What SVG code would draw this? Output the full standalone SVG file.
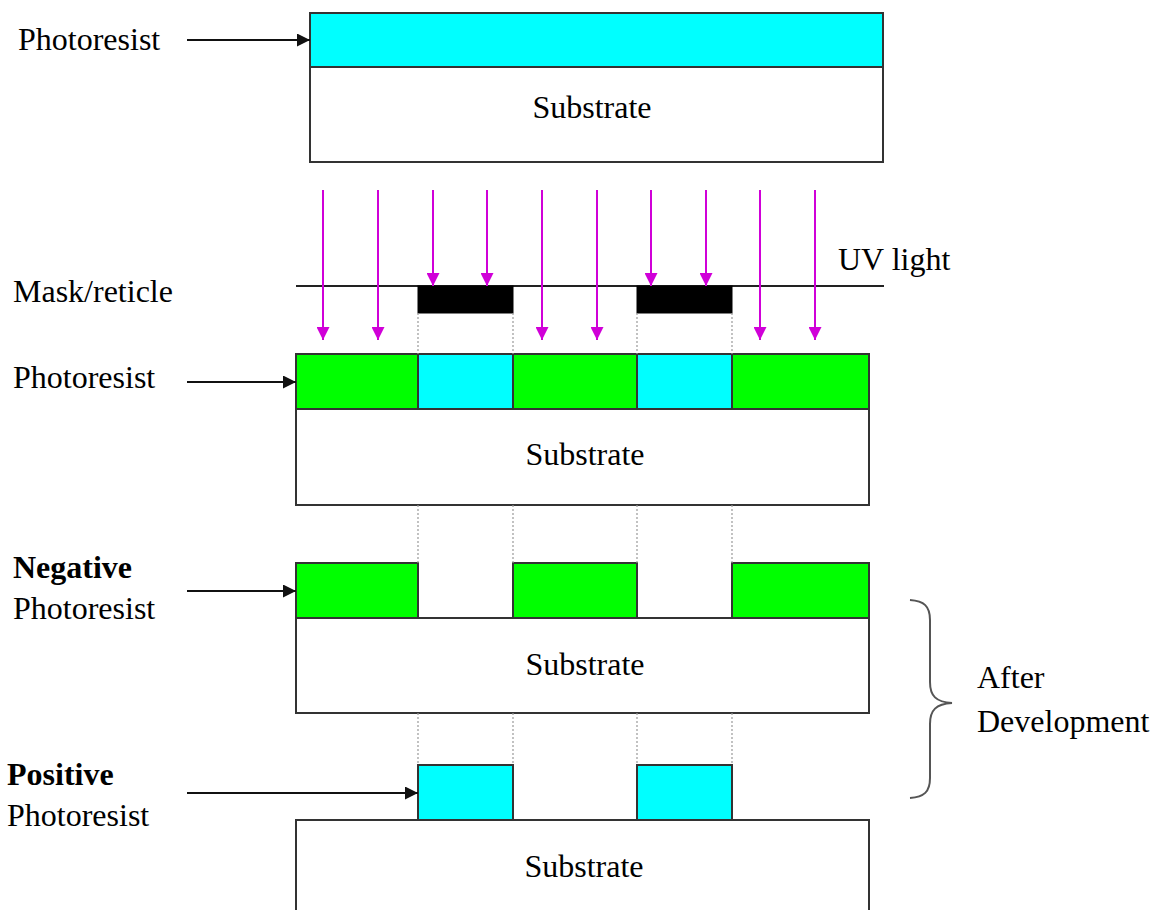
<svg xmlns="http://www.w3.org/2000/svg" width="1158" height="910" viewBox="0 0 1158 910">
<style>
text{font-family:"Liberation Serif","Times New Roman",serif;font-size:32px;fill:#000}
.b{font-weight:bold}
.box{stroke:#333;stroke-width:2}
.sub{fill:#fff}
.cy{fill:#00ffff}
.gr{fill:#00ff00}
.mk{fill:#000;stroke:#000;stroke-width:1}
.dot{stroke:#999;stroke-width:1.2;stroke-dasharray:2 2;fill:none}
.uv{stroke:#d000d8;stroke-width:2;fill:none}
.blk{stroke:#111;stroke-width:2;fill:none}
</style>
<defs>
<marker id="ah" viewBox="0 0 10 10" refX="10" refY="5" markerWidth="13" markerHeight="13" markerUnits="userSpaceOnUse" orient="auto"><path d="M0,0 L10,5 L0,10 z" fill="#111"/></marker>
<marker id="uvh" viewBox="0 0 10 10" refX="10" refY="5" markerWidth="14" markerHeight="13" markerUnits="userSpaceOnUse" orient="auto"><path d="M0,0 L10,5 L0,10 z" fill="#d000d8"/></marker>
</defs>

<g id="stage1">
<rect class="box sub" x="310" y="67" width="573" height="95"/>
<rect class="box cy" x="310" y="13" width="573" height="54"/>
<text x="592" y="118" text-anchor="middle">Substrate</text>
<text x="18" y="50">Photoresist</text>
</g>

<g id="mask">
<line x1="296" y1="286" x2="884" y2="286" stroke="#222" stroke-width="2"/>
<rect class="mk" x="418" y="286" width="95" height="27"/>
<rect class="mk" x="637" y="286" width="95" height="27"/>
<text x="13" y="302">Mask/reticle</text>
<text x="838" y="270">UV light</text>
</g>

<g id="stage2">
<rect class="box sub" x="296" y="409" width="573" height="96"/>
<rect class="box gr" x="296" y="354" width="122" height="55"/>
<rect class="box cy" x="418" y="354" width="95" height="55"/>
<rect class="box gr" x="513" y="354" width="124" height="55"/>
<rect class="box cy" x="637" y="354" width="95" height="55"/>
<rect class="box gr" x="732" y="354" width="137" height="55"/>
<text x="585" y="465" text-anchor="middle">Substrate</text>
<text x="13" y="388">Photoresist</text>
</g>

<g id="negative">
<rect class="box sub" x="296" y="618" width="573" height="95"/>
<rect class="box gr" x="296" y="563" width="122" height="55"/>
<rect class="box gr" x="513" y="563" width="124" height="55"/>
<rect class="box gr" x="732" y="563" width="137" height="55"/>
<text x="585" y="675" text-anchor="middle">Substrate</text>
<text x="13" y="578" class="b">Negative</text>
<text x="13" y="619">Photoresist</text>
</g>

<g id="positive">
<rect class="box sub" x="296" y="820" width="573" height="100"/>
<rect class="box cy" x="418" y="765" width="95" height="55"/>
<rect class="box cy" x="637" y="765" width="95" height="55"/>
<text x="584" y="877" text-anchor="middle">Substrate</text>
<text x="7" y="785" class="b">Positive</text>
<text x="7" y="826">Photoresist</text>
</g>

<g id="after">
<path d="M910,600 C924,601 930,606 930,620 L930,682 C930,696 936,702 952,703 C936,704 930,710 930,724 L930,778 C930,792 924,797 910,798" fill="none" stroke="#555" stroke-width="2"/>
<text x="977" y="688">After</text>
<text x="977" y="732">Development</text>
</g>

<g id="connectors">
<line class="blk" x1="187" y1="40" x2="310" y2="40" marker-end="url(#ah)"/>
<line class="blk" x1="187" y1="382" x2="296" y2="382" marker-end="url(#ah)"/>
<line class="blk" x1="187" y1="591" x2="296" y2="591" marker-end="url(#ah)"/>
<line class="blk" x1="187" y1="793" x2="418" y2="793" marker-end="url(#ah)"/>
<line class="uv" x1="323" y1="190" x2="323" y2="340" marker-end="url(#uvh)"/>
<line class="uv" x1="378" y1="190" x2="378" y2="340" marker-end="url(#uvh)"/>
<line class="uv" x1="433" y1="190" x2="433" y2="286" marker-end="url(#uvh)"/>
<line class="uv" x1="487" y1="190" x2="487" y2="286" marker-end="url(#uvh)"/>
<line class="uv" x1="542" y1="190" x2="542" y2="340" marker-end="url(#uvh)"/>
<line class="uv" x1="597" y1="190" x2="597" y2="340" marker-end="url(#uvh)"/>
<line class="uv" x1="651" y1="190" x2="651" y2="286" marker-end="url(#uvh)"/>
<line class="uv" x1="706" y1="190" x2="706" y2="286" marker-end="url(#uvh)"/>
<line class="uv" x1="760" y1="190" x2="760" y2="340" marker-end="url(#uvh)"/>
<line class="uv" x1="815" y1="190" x2="815" y2="340" marker-end="url(#uvh)"/>
<path class="dot" d="M418,313 V354 M513,313 V354 M637,313 V354 M732,313 V354 M418,505 V563 M513,505 V563 M637,505 V563 M732,505 V563 M418,713 V765 M513,713 V765 M637,713 V765 M732,713 V765"/>
</g>
</svg>
